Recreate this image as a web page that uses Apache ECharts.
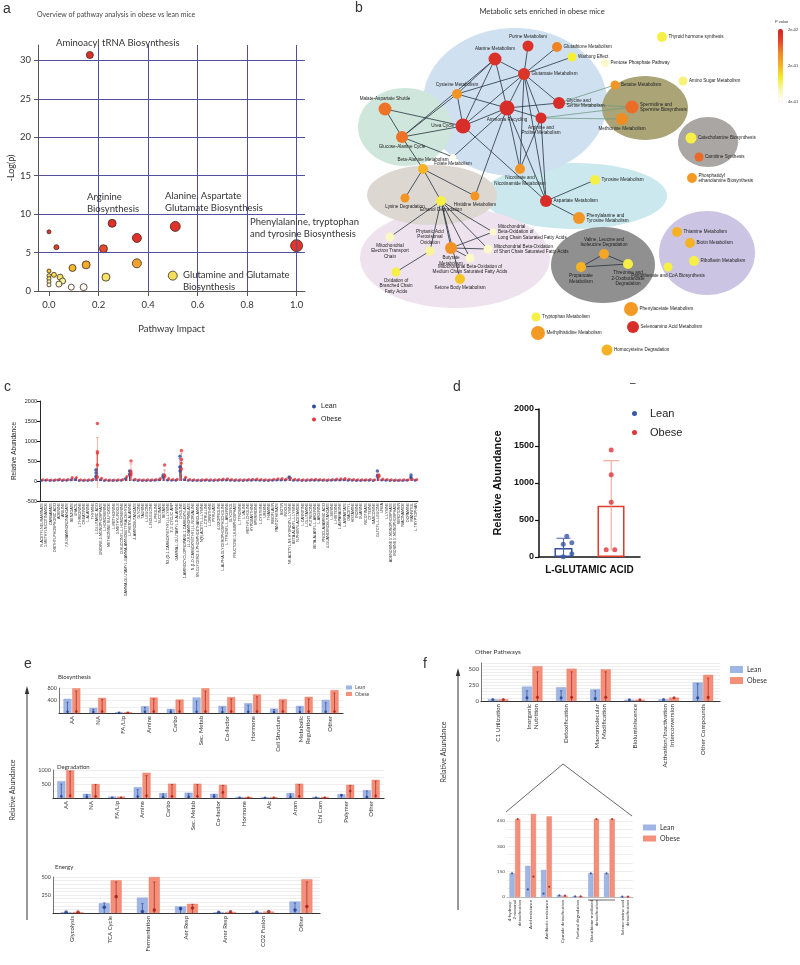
<!DOCTYPE html>
<html><head><meta charset="utf-8">
<script src="https://cdn.jsdelivr.net/npm/echarts@6/dist/echarts.min.js"></script>
<style>html,body{margin:0;padding:0;background:#fff}#c{width:800px;height:965px}</style>
</head><body><div id="c"></div><script>
const F1 = 'Lato, "Open Sans", sans-serif';
const F2 = '"Liberation Sans", Arial, sans-serif';

// ---------------- Panel a data ----------------
const impactA = [0.165,0.255,0.355,0.51,1.0,0.22,0.355,0.15,0.095,0.03,0.0,0.5,0.23,0.045,0.055,0.04,0.02,0.0,0.0,0.0,0.0,0.0,0.09,0.14];
const logpA   = [30.7,8.8,6.9,8.4,5.9,5.5,3.6,3.4,3.0,5.7,7.7,2.0,1.8,1.8,1.3,0.9,2.1,2.6,2.0,1.6,1.2,0.8,0.5,0.5];
const hitsA   = [7,8,9,10,12,8,9,8,7,5,4,9,8,6,6,6,5,4,4,4,4,4,6,7];
const xTicksA = [0,0.2,0.4,0.6,0.8,1.0];
const yTicksA = [0,5,10,15,20,25,30];

// ---------------- Panel b data ----------------
const nodeNames = ['Purine Metabolism','Alanine Metabolism','Glutamate Metabolism','Glutathione Metabolism','Warburg Effect','Pentose Phosphate Pathway','Thyroid hormone synthesis','Amino Sugar Metabolism','Cysteine Metabolism','Malate-Aspartate Shuttle',
'Ammonia Recycling','Urea Cycle','Arginine and\nProline Metabolism','Glycine and\nSerine Metabolism','Glucose-Alanine Cycle','Folate Metabolism','Beta-Alanine Metabolism','Nicotinate and\nNicotinamide Metabolism','Betaine Metabolism','Spermidine and\nSpermine Biosynthesis',
'Methionine Metabolism','Catecholamine Biosynthesis','Carnitine Synthesis','Phosphatidyl\nethanolamine Biosynthesis','Tyrosine Metabolism','Aspartate Metabolism','Phenylalanine and\nTyrosine Metabolism','Lysine Degradation','Ethanol Degradation','Histidine Metabolism',
'Mitochondrial\nElectron Transport\nChain','Phytanic Acid\nPeroxisomal\nOxidation','Butyrate\nMetabolism','Mitochondrial\nBeta-Oxidation of\nLong Chain Saturated Fatty Acids','Mitochondrial Beta-Oxidation\nof Short Chain Saturated Fatty Acids','Mitochondrial Beta-Oxidation of\nMedium Chain Saturated Fatty Acids','Oxidation of\nBranched Chain\nFatty Acids','Ketone Body Metabolism','Valine, Leucine and\nIsoleucine Degradation','Propanoate\nMetabolism',
'Threonine and\n2-Oxobutanoate\nDegradation','Thiamine Metabolism','Biotin Metabolism','Riboflavin Metabolism','Pantothenate and CoA Biosynthesis','Phenylacetate Metabolism','Selenoamino Acid Metabolism','Homocysteine Degradation','Tryptophan Metabolism','Methylhistidine Metabolism'];
const nodeX = [528,495,524,557,572,605,662,683,457,385, 507,463,541,559,402,453,423,520,615,632, 622,691,699,692,595,546,579,405,441,475, 390,430,451,493,488,470,396,460,604,581, 628,677,690,694,668,631,633,607,536,538];
const nodeY = [46,59,74,47,57,63,37,81,94,109, 108,126,118,103,137,157,169,169,85,107, 119,138,157,178,180,201,218,198,201,196, 237,251,248,232,249,258,272,279,254,267, 264,232,243,261,267,309,327,350,317,333];
const nodeHits = [11,13,12,10,9,8,10,9,10,13, 15,15,11,12,12,6,10,10,9,13, 12,11,9,10,10,12,12,9,10,9, 9,9,12,7,9,9,9,10,10,10, 10,10,10,10,9,14,12,11,9,14];
const nodeLevel = [0.93,0.93,0.92,0.68,0.32,0.12,0.3,0.24,0.62,0.72, 0.95,0.95,0.95,0.95,0.72,0.04,0.5,0.62,0.62,0.74, 0.66,0.3,0.75,0.6,0.3,0.95,0.62,0.62,0.3,0.62, 0.14,0.2,0.63,0.12,0.12,0.12,0.3,0.45,0.55,0.5, 0.3,0.5,0.5,0.3,0.3,0.6,0.95,0.5,0.3,0.6];
const edgesDark = [[1,2],[1,8],[1,11],[1,10],[1,14],[0,2],[2,3],[2,4],[2,8],[2,11],[2,10],[2,12],[2,13],[2,17],[2,25],
 [10,13],[10,12],[10,11],[10,8],[10,15],[10,29],[10,17],[10,25],[11,8],[11,9],[11,14],[11,25],[9,14],[14,8],[14,15],[14,16],
 [12,17],[12,25],[25,24],[25,26],[16,27],[16,28],[16,29],[28,30],[28,31],[28,32],[28,37],[28,33],[28,34],[28,35],
 [32,33],[32,34],[32,35],[31,36],[38,39],[38,40],[39,40]];
const edgesGreen = [[13,18],[13,19],[12,19],[12,20]];
const blobs = [[575,196,92,33],[515,102,92,74],[405,127,47,39],[455,258,95,50],[432,195,65,30],[645,108,43,32],[708,142,30,25],[603,265,52,38],[707,253,48,42]];
const pTicks = ['2e-02','2e-01','4e-01'];

// ---------------- Panel c data ----------------
const catC = ['N-ACETYLNEURAMINATE','1-METHYLNICOTINAMIDE','CARBAMATE','DIETHYLPHOSPHORIC ACID','ADENINE','ANILINE','7,8-DIAMINONONANOATE','BENZOATE','URACIL','L-THREONINE',
'CREATININE','L-ALANINE','THYMINE','L-GLUTAMIC ACID','URIDINE-5-MONOPHOSPHATE','L-HOMOSERINE','METHIONINE SULFOXIDE','L-METHIONINE','3-METHYLINDOLE','O-SUCCINYL-L-HOMOSERINE',
'GAMMA-GLUTAMYL-GAMMA-AMINOBUTYRALDEHYDE','L-PHENYLALANINE','4-AMINOBUTANOATE','GLYCINE','TAURINE','L-LEUCINE','L-ISOLEUCINE','L-PROLINE','SUCCINATE','BETAINE',
'N2-(D-1-CARBOXYETHYL)-L-LYSINE',"3',5'-CYCLIC AMP",'GAMMA-L-GLUTAMYL-D-ALANINE','CHOLINE','1-AMINOCYCLOPROPANE-1-CARBOXYLATE','LL-2,6-DIAMINOPIMELATE','N-(1-D-CARBOXYETHYL)-L-NORVALINE','SN-GLYCERO-3-PHOSPHOETHANOLAMINE','N(6)-ACETYL-L-LYSINE','L-CITRULLINE',
'L-ORNITHINE','PYRUVATE','4-OXOPROLINE','L-ALPHA-GLYCEROPHOSPHOCHOLINE','L-TYROSYL-L-ARGININE','GLYCEROL','FRUCTOSE-1,6-BISPHOSPHATE','L-TYROSINE','L-VALINE','METHYLCHOLINE',
'HYPOXANTHINE','SPERMIDINE','L-CYSTEINE','URIDINE','THIAMINE','RIBOFLAVIN','PANTOTHENATE','BIOTIN','INDOLE','N6-ACETYL-N6-HYDROXY-L-LYSINE',
'BETA-ALANYL-L-LYSINE','N-PHENYLACETAMIDE','L-CARNITINE','L-GLUTAMINE','PUTRESCINE','BETA-ALANYL-L-ARGININE','L-ARGININE','PROCLAVAMINIC ACID','4-GUANIDINOBUTANOATE','L-SERINE',
'L-HISTIDINE','L-ASPARAGINE','L-ASPARTATE','DIACETYL','HISTAMINE','INOSINE','GUANINE','NICOTINATE','CYTIDINE','SARCOSINE',
'GLYCYL-L-LEUCINE','UREA','L-LYSINE',"ADENOSINE 5'-MONOPHOSPHATE","INOSINE 5'-MONOPHOSPHATE",'SEROTONIN','NIACINAMIDE','DOPAMINE','MANNITOL','L-TRYPTOPHAN'];
const obeseC = [30,32,28,30,45,30,35,85,88,30, 28,30,45,695,70,30,28,26,30,35, 110,250,45,30,28,30,32,40,65,150, 60,38,42,450,95,35,30,28,32,35, 32,30,40,48,55,40,32,30,32,35, 45,50,38,32,30,42,55,60,48,75, 45,38,32,30,36,42,40,34,30,36, 48,58,62,45,36,32,30,34,38,32, 130,48,36,30,28,26,30,34,45,38];
const leanC  = [15,18,12,14,25,15,18,30,35,14, 12,14,20,125,30,14,12,12,15,18, 60,180,22,15,12,14,15,18,30,120, 25,18,20,350,40,16,14,12,15,16, 15,14,18,22,25,18,15,14,15,16, 20,22,18,15,14,20,25,28,22,90, 20,18,15,14,16,20,18,16,14,16, 22,28,30,20,16,15,14,16,18,15, 150,22,16,14,12,12,14,16,100,18];
const leanDotsC  = [[13,280],[13,200],[13,100],[21,250],[21,150],[29,150],[29,100],[33,620],[33,350],[33,250],[59,100],[80,250],[80,120],[88,150],[88,80]];
const obeseDotsC = [[13,1440],[13,730],[13,400],[13,99],[21,500],[21,200],[21,150],[29,400],[29,120],[33,760],[33,540],[33,300],[80,150],[80,120]];
const leanErrC  = [[13,0,260],[21,100,250],[33,120,560]];
const obeseErrC = [[13,-180,1090],[21,50,430],[29,0,280],[33,150,700]];

// ---------------- Panel d data ----------------
const catD = ['L-GLUTAMIC ACID'];
const leanMeanD = [122];
const obeseMeanD = [693];
const leanPtsD  = [[-0.45,280],[-0.52,172],[-0.35,193],[-0.35,45],[-0.52,3]];
const obesePtsD = [[0.43,1446],[0.43,1112],[0.43,739],[0.33,99],[0.5,99]];
const leanErrD  = [[-0.515,0,253]];
const obeseErrD = [[0.43,88,1301]];

// ---------------- Panel e data ----------------
const catBio = ['AA','NA','FA/Lip','Amine','Carbo','Sec. Metab','Co-factor','Hormone','Cell Structure','Metabolic\nRegulation','Other'];
const leanBio  = [454,162,30,216,130,497,227,313,140,227,421];
const obeseBio = [790,486,30,497,432,790,508,594,443,518,734];
const leanDotBio  = [40,30,5,40,30,40,30,40,30,30,40];
const obeseDotBio = [50,50,5,50,50,50,50,50,50,50,50];
const leanHiBio  = [350,120,0,180,100,380,170,250,110,180,330];
const obeseHiBio = [700,430,0,450,380,700,450,520,380,450,640];

const catDeg = ['AA','NA','FA/Lip','Amine','Carbo','Sec. Metab','Co-factor','Hormone','Alc','Arom','Chl Com','Polymer','Other'];
const leanDeg  = [600,150,50,390,175,190,150,40,30,175,40,135,280];
const obeseDeg = [990,500,50,900,510,510,470,40,30,510,40,470,650];
const leanDotDeg  = [60,40,10,50,40,40,50,10,5,40,10,100,30];
const obeseDotDeg = [80,60,10,80,60,60,200,10,5,60,10,250,80];
const leanHiDeg  = [500,120,0,300,150,150,130,0,0,150,0,130,250];
const obeseHiDeg = [950,480,0,800,480,480,450,0,0,480,0,450,600];

const catEn = ['Glycolysis','TCA Cycle','Fermentation','Aer Resp','Aner Resp','CO2 Fusion','Other'];
const leanEn  = [12,136,214,91,10,10,160];
const obeseEn = [12,455,500,127,15,20,468];
const leanDotEn  = [12,80,20,60,10,10,40];
const obeseDotEn = [12,227,40,70,15,20,90];
const leanHiEn  = [0,140,130,80,0,0,140];
const obeseHiEn = [0,430,430,120,0,0,430];

// ---------------- Panel f data ----------------
const catOth = ['C1 Utilization','Inorganic\nNutrition','Detoxification','Macromolecular\nModification','Bioluminiscence','Activation/Inactivation\nInterconversion','Other Compounds'];
const leanOth  = [27,228,217,185,20,27,293];
const obeseOth = [27,549,510,500,20,54,413];
const leanDotOth  = [25,50,50,40,20,25,50];
const obeseDotOth = [25,60,60,60,20,50,60];
const leanHiOth  = [0,160,160,160,0,0,270];
const obeseHiOth = [0,460,460,460,0,0,360];

const catDet = ['4-hydroxy-\n2-nonenal\ndetoxification','Acid resistance','Antibiotic resistance','Cyanide detoxification','Furfural degradation','Glutathione-mediated\ndetoxification',' ','Seleno-amino acid\ndetoxification'];
const leanDet  = [140,184,160,10,4,140,140,2];
const obeseDet = [460,490,476,8,4,460,460,2];
const leanDotDet  = [140,45,20,10,4,140,140,2];
const obeseDotDet = [460,120,60,8,4,460,460,2];
const leanHiDet  = [0,0,0,0,0,0,0,0];
const obeseHiDet = [0,0,0,0,0,0,0,0];

// ---------------- styles ----------------
const labelPos = ['top','top','right','right','right','right','right','right','top','top', 'bottom','left','bottom','right','bottom','bottom','top','bottom','right','right', 'bottom','right','right','right','right','right','right','bottom','bottom','bottom', 'bottom','top','bottom','right','right','bottom','bottom','bottom','top','bottom', 'bottom','right','right','right','bottom','right','right','right','right','right'];
const blobColors = ['#cae8ee','#cfe1f1','#cfe6dc','#efe2ef','#ddd7d2','#aaa477','#aaa6a3','#919090','#cbc4e2'];
const LEAN_BAR = '#9fb5e4', OBESE_BAR = '#f39079', LEAN_DOT = '#1f3a8a', OBESE_DOT = '#a81818';
const plain = v => String(v);

const option = {animation:false, backgroundColor:'#fff', grid:[], xAxis:[], yAxis:[], series:[], legend:[], visualMap:[], graphic:{elements:[]}};
const S = option.series, G = option.graphic.elements;

function txt(x, y, text, size, opt) {
  opt = opt || {};
  G.push({type:'text', x:x, y:y, rotation: opt.rot || 0, z:50,
    style:{text:text, fontSize:size, fontFamily: opt.font || F1, fontWeight: opt.bold ? 'bold':'normal', fill: opt.color || '#333',
      align: opt.align || 'left', verticalAlign: opt.va || 'middle', lineHeight: opt.lh || size*1.2}});
}
function line(x1,y1,x2,y2,color,w){ G.push({type:'line', z:50, shape:{x1,y1,x2,y2}, style:{stroke:color||'#333', lineWidth:w||1}}); }

function errRender(offset, color, cap, lw) {
  return function(params, api) {
    const lo = api.coord([api.value(0), api.value(1)]);
    const hi = api.coord([api.value(0), api.value(2)]);
    const x = lo[0] + offset;
    return {type:'group', children:[
      {type:'line', shape:{x1:x, y1:lo[1], x2:x, y2:hi[1]}, style:{stroke:color, lineWidth:lw||0.8}},
      {type:'line', shape:{x1:x-cap, y1:hi[1], x2:x+cap, y2:hi[1]}, style:{stroke:color, lineWidth:lw||0.8}}
    ]};
  };
}

// ================= Panel a =================
option.grid.push({left:38, top:45, width:267, height:246});
option.xAxis.push({type:'value', gridIndex:0, min:-0.0444, max:1.034,
  axisLine:{onZero:false, lineStyle:{color:'#555', width:1}},
  axisTick:{show:true, length:5, customValues:xTicksA, lineStyle:{color:'#555'}},
  axisLabel:{customValues:xTicksA, formatter:v=>v.toFixed(1), fontSize:9.5, fontFamily:F1, color:'#333', margin:9},
  splitLine:{show:false},
  name:'Pathway Impact', nameLocation:'middle', nameGap:33, nameTextStyle:{fontSize:9.5, fontFamily:F1, color:'#333'}});
option.yAxis.push({type:'value', gridIndex:0, min:0, max:32,
  axisLine:{show:true, onZero:false, lineStyle:{color:'#555', width:1}},
  axisTick:{show:true, length:4, customValues:yTicksA, lineStyle:{color:'#555'}},
  axisLabel:{customValues:yTicksA, fontSize:9.5, fontFamily:F1, color:'#333', margin:7},
  splitLine:{show:false},
  name:'-Log(p)', nameLocation:'middle', nameGap:21, nameTextStyle:{fontSize:9, fontFamily:F1, color:'#333'}});
S.push({type:'scatter', xAxisIndex:0, yAxisIndex:0, data:[[0,0]], symbolSize:0, silent:true, z:1,
  markLine:{silent:true, symbol:'none', label:{show:false}, lineStyle:{color:'#50509c', width:1, type:'solid'},
    data:[...xTicksA.slice(1).map(v=>({xAxis:v})), ...yTicksA.slice(1).map(v=>({yAxis:v}))]}});
const aIdx = S.length;
S.push({type:'scatter', xAxisIndex:0, yAxisIndex:0, z:3,
  data: impactA.map((x,i)=>[x, logpA[i], hitsA[i]]), symbolSize: v=>v[2],
  itemStyle:{borderColor:'#3a2a20', borderWidth:0.8, opacity:1}});
option.visualMap.push({type:'continuous', show:false, seriesIndex:aIdx, dimension:1, min:0.4, max:6,
  inRange:{color:['#ffffff','#f3ec80','#f5c828','#f09a30','#e86a34','#e0302a']}});
txt(3, 9, 'a', 14, {font:F2});
txt(37, 15, 'Overview of pathway analysis in obese vs lean mice', 7, {color:'#444'});
txt(56, 43, 'Aminoacyl tRNA Biosynthesis', 9.5);
txt(87, 203, 'Arginine\nBiosynthesis', 9.5, {lh:11.5});
txt(165, 202, 'Alanine, Aspartate\nGlutamate Biosynthesis', 9.5, {lh:11.5});
txt(250, 228, 'Phenylalanine, tryptophan\nand tyrosine Biosynthesis', 9.5, {lh:11.5});
txt(183, 281, 'Glutamine and Glutamate\nBiosynthesis', 9.5, {lh:11.5});

// ================= Panel b =================
option.grid.push({left:290, top:20, width:510, height:350});
option.xAxis.push({type:'value', gridIndex:1, min:290, max:800, show:false});
option.yAxis.push({type:'value', gridIndex:1, min:20, max:370, inverse:true, show:false});
S.push({type:'custom', xAxisIndex:1, yAxisIndex:1, z:1, silent:true, data:blobs,
  renderItem:function(params, api){
    const c = api.coord([api.value(0), api.value(1)]);
    const s = api.size([api.value(2), api.value(3)]);
    return {type:'ellipse', shape:{cx:c[0], cy:c[1], rx:Math.abs(s[0]), ry:Math.abs(s[1])}, style:{fill:blobColors[params.dataIndex]}};
  }});
S.push({type:'lines', coordinateSystem:'cartesian2d', xAxisIndex:1, yAxisIndex:1, z:2, silent:true,
  data: edgesDark.map(([a,b])=>({coords:[[nodeX[a],nodeY[a]],[nodeX[b],nodeY[b]]]})),
  lineStyle:{color:'#27323f', width:0.8, opacity:1}});
S.push({type:'lines', coordinateSystem:'cartesian2d', xAxisIndex:1, yAxisIndex:1, z:2, silent:true,
  data: edgesGreen.map(([a,b])=>({coords:[[nodeX[a],nodeY[a]],[nodeX[b],nodeY[b]]]})),
  lineStyle:{color:'#6f9c80', width:0.8, opacity:1}});
const bIdx = S.length;
S.push({type:'scatter', xAxisIndex:1, yAxisIndex:1, z:3,
  data: nodeNames.map((n,i)=>({name:n, value:[nodeX[i], nodeY[i], nodeHits[i], nodeLevel[i]], label:{position:labelPos[i]}})),
  symbolSize: v=>v[2], itemStyle:{opacity:1},
  label:{show:true, formatter:'{b}', fontSize:4.6, fontFamily:F2, color:'#222', distance:1.5, lineHeight:5.3}});
option.visualMap.push({type:'continuous', show:true, seriesIndex:bIdx, dimension:3, min:0, max:1, calculable:false,
  left:778, top:29, itemWidth:5, itemHeight:73, padding:0, text:null, showLabel:false,
  inRange:{color:['#ffffff','#fbf5b5','#f3ee2a','#f6b225','#f08a24','#e8452a','#cf2428']}});
txt(355, 8, 'b', 14, {font:F2});
txt(542, 12, 'Metabolic sets enriched in obese mice', 7.5, {align:'center', color:'#333'});
txt(775, 22, 'P value', 4, {font:F2});
txt(788, 30, pTicks[0], 4, {font:F2});
txt(788, 66, pTicks[1], 4, {font:F2});
txt(788, 102, pTicks[2], 4, {font:F2});

// ================= Panel c =================
option.grid.push({left:40, top:401, width:378, height:100});
option.xAxis.push({type:'category', gridIndex:2, data:catC,
  axisLine:{onZero:false, lineStyle:{color:'#111', width:0.9}},
  axisTick:{interval:0, length:2, lineStyle:{color:'#111', width:0.5}},
  axisLabel:{rotate:90, interval:0, fontSize:3.6, fontFamily:F2, color:'#222', margin:2}});
option.yAxis.push({type:'value', gridIndex:2, min:-500, max:2000, interval:500,
  axisLine:{show:true, onZero:false, lineStyle:{color:'#111', width:0.9}},
  axisTick:{show:true, length:3, lineStyle:{color:'#111'}},
  axisLabel:{fontSize:5.5, fontFamily:F2, color:'#222', margin:3, formatter:plain},
  splitLine:{show:false},
  name:'Relative Abundance', nameLocation:'middle', nameGap:22, nameTextStyle:{fontSize:6.5, fontFamily:F2, color:'#222'}});
S.push({name:'Lean', type:'bar', xAxisIndex:2, yAxisIndex:2, data:leanC, barWidth:1.3, barGap:'0%', itemStyle:{color:'#3050a0'}, z:2});
S.push({name:'Obese', type:'bar', xAxisIndex:2, yAxisIndex:2, data:obeseC, barWidth:1.3, itemStyle:{color:'#e03a30'}, z:2});
S.push({type:'custom', xAxisIndex:2, yAxisIndex:2, data:leanErrC, renderItem:errRender(-0.7,'#3050a0',1.5,0.6), z:3, silent:true});
S.push({type:'custom', xAxisIndex:2, yAxisIndex:2, data:obeseErrC, renderItem:errRender(0.7,'#f08070',1.5,0.6), z:3, silent:true});
S.push({name:'Lean', type:'scatter', xAxisIndex:2, yAxisIndex:2, data:leanC.map((v,i)=>[i,v]), symbolSize:3, symbolOffset:[-0.7,0], itemStyle:{color:'#2e4da0'}, z:4});
S.push({name:'Obese', type:'scatter', xAxisIndex:2, yAxisIndex:2, data:obeseC.map((v,i)=>[i,v]), symbolSize:3, symbolOffset:[0.7,0], itemStyle:{color:'#e8343a'}, z:5});
S.push({name:'Lean', type:'scatter', xAxisIndex:2, yAxisIndex:2, data:leanDotsC, symbolSize:3.5, symbolOffset:[-0.7,0], itemStyle:{color:'#2e4da0'}, z:4});
S.push({name:'Obese', type:'scatter', xAxisIndex:2, yAxisIndex:2, data:obeseDotsC, symbolSize:3.5, symbolOffset:[0.7,0], itemStyle:{color:'#e8343a'}, z:5});
option.legend.push({left:312, top:403, orient:'vertical', padding:0, itemGap:6, itemWidth:4, itemHeight:4, icon:'circle',
  textStyle:{fontSize:7, fontFamily:F2, color:'#222'},
  data:[{name:'Lean', itemStyle:{color:'#2e4da0'}},{name:'Obese', itemStyle:{color:'#e8343a'}}]});
txt(4, 387, 'c', 14, {font:F2});

// ================= Panel d =================
option.grid.push({left:539, top:409, width:101, height:148});
option.xAxis.push({type:'category', gridIndex:3, data:catD,
  axisLine:{onZero:false, lineStyle:{color:'#111', width:1.5}},
  axisTick:{alignWithLabel:true, length:5, lineStyle:{color:'#111', width:1.2}},
  axisLabel:{fontSize:10, fontWeight:'bold', fontFamily:F2, color:'#111', margin:8}});
option.xAxis.push({type:'value', gridIndex:3, min:-1, max:1, show:false});
option.yAxis.push({type:'value', gridIndex:3, min:0, max:2000, interval:500,
  axisLine:{show:true, onZero:false, lineStyle:{color:'#111', width:1.5}},
  axisTick:{show:true, length:4, lineStyle:{color:'#111', width:1.2}},
  axisLabel:{fontSize:9, fontWeight:'bold', fontFamily:F2, color:'#111', margin:5, formatter:plain},
  splitLine:{show:false},
  name:'Relative Abundance', nameLocation:'middle', nameGap:36, nameTextStyle:{fontSize:11, fontWeight:'bold', fontFamily:F2, color:'#111'}});
S.push({name:'Lean', type:'bar', xAxisIndex:3, yAxisIndex:3, data:leanMeanD, barWidth:18, barGap:'139%', z:2,
  itemStyle:{color:'rgba(255,255,255,0)', borderColor:'#34509c', borderWidth:1.5}});
S.push({name:'Obese', type:'bar', xAxisIndex:3, yAxisIndex:3, data:obeseMeanD, barWidth:27, z:2,
  itemStyle:{color:'rgba(255,255,255,0)', borderColor:'#e03a2a', borderWidth:1.5}});
S.push({type:'custom', xAxisIndex:4, yAxisIndex:3, data:leanErrD, renderItem:errRender(0,'#4a64aa',7,1), z:3, silent:true});
S.push({type:'custom', xAxisIndex:4, yAxisIndex:3, data:obeseErrD, renderItem:errRender(0,'#f0a088',8,1), z:3, silent:true});
S.push({name:'Lean', type:'scatter', xAxisIndex:4, yAxisIndex:3, data:leanPtsD, symbolSize:5, itemStyle:{color:'#3a58a8'}, z:4});
S.push({name:'Obese', type:'scatter', xAxisIndex:4, yAxisIndex:3, data:obesePtsD, symbolSize:5, itemStyle:{color:'#e0343a'}, z:4});
option.legend.push({left:632, top:408, orient:'vertical', padding:0, itemGap:8, itemWidth:5, itemHeight:5, icon:'circle',
  textStyle:{fontSize:11, fontFamily:F2, color:'#222', padding:[0,0,0,8]},
  data:[{name:'Lean', itemStyle:{color:'#3a58a8'}},{name:'Obese', itemStyle:{color:'#e0343a'}}]});
txt(453, 387, 'd', 14, {font:F2});
txt(630, 383, '\u2013', 10, {font:F2, color:'#222'});

// ================= Bar panels e/f =================
function barPanel(p) {
  const gi = option.grid.length; option.grid.push(p.grid);
  const xi = option.xAxis.length;
  option.xAxis.push({type:'category', gridIndex:gi, data:p.cats,
    axisLine:{onZero:false, lineStyle:{color:p.axisColor||'#333', width:p.axisW||1.2}},
    axisTick:{show:false},
    axisLabel:{rotate:90, interval:0, fontSize:p.labelFont, fontFamily:F1, color:'#333', margin:3, lineHeight:p.labelFont*1.15}});
  const yi = option.yAxis.length;
  option.yAxis.push({type:'value', gridIndex:gi, min:0, max:p.max, interval:p.interval,
    axisLine:{show:p.yLine!==false, onZero:false, lineStyle:{color:'#555', width:0.8}},
    axisTick:{show:false},
    axisLabel:{fontSize:p.yFont, fontFamily:F1, color:'#444', margin:2,
      formatter: v => (v % p.labelEvery === 0 && (v > 0 || p.showZero)) ? String(v) : ''},
    splitLine:{lineStyle:{color:'#e3e3e3', width:0.6}}});
  const off = p.barW*(1+p.gap)/2;
  S.push({name:'Lean', type:'bar', xAxisIndex:xi, yAxisIndex:yi, data:p.lean, barWidth:p.barW, barGap:(p.gap*100)+'%', z:2,
    itemStyle:{color:LEAN_BAR, borderColor:'#87a0d6', borderWidth:0.4}});
  S.push({name:'Obese', type:'bar', xAxisIndex:xi, yAxisIndex:yi, data:p.obese, barWidth:p.barW, z:2,
    itemStyle:{color:OBESE_BAR, borderColor:'#e27a62', borderWidth:0.4}});
  S.push({type:'custom', xAxisIndex:xi, yAxisIndex:yi, z:3, silent:true,
    data:p.leanHi.map((h,i)=>[i,0,h]).filter(d=>d[2]>0), renderItem:errRender(-off,'#2a4a9a',p.cap,0.7)});
  S.push({type:'custom', xAxisIndex:xi, yAxisIndex:yi, z:3, silent:true,
    data:p.obeseHi.map((h,i)=>[i,0,h]).filter(d=>d[2]>0), renderItem:errRender(off,'#b02020',p.cap,0.7)});
  S.push({type:'scatter', xAxisIndex:xi, yAxisIndex:yi, z:4, silent:true, data:p.leanDot.map((v,i)=>[i,v]),
    symbolSize:p.dot, symbolOffset:[-off,0], itemStyle:{color:LEAN_DOT}});
  S.push({type:'scatter', xAxisIndex:xi, yAxisIndex:yi, z:4, silent:true, data:p.obeseDot.map((v,i)=>[i,v]),
    symbolSize:p.dot, symbolOffset:[off,0], itemStyle:{color:OBESE_DOT}});
}
barPanel({grid:{left:59, top:688, width:284, height:25}, cats:catBio, lean:leanBio, obese:obeseBio, leanDot:leanDotBio, obeseDot:obeseDotBio,
  leanHi:leanHiBio, obeseHi:obeseHiBio, max:800, interval:200, labelEvery:400, barW:8, gap:0.1, labelFont:6, yFont:5.5, cap:1, dot:2.6});
barPanel({grid:{left:53, top:770, width:331, height:28}, cats:catDeg, lean:leanDeg, obese:obeseDeg, leanDot:leanDotDeg, obeseDot:obeseDotDeg,
  leanHi:leanHiDeg, obeseHi:obeseHiDeg, max:1000, interval:250, labelEvery:500, barW:8, gap:0.1, labelFont:6, yFont:5.5, cap:1, dot:2.6});
barPanel({grid:{left:53, top:877, width:267, height:36}, cats:catEn, lean:leanEn, obese:obeseEn, leanDot:leanDotEn, obeseDot:obeseDotEn,
  leanHi:leanHiEn, obeseHi:obeseHiEn, max:500, interval:50, labelEvery:250, barW:11, gap:0.08, labelFont:6, yFont:5.5, cap:1.2, dot:3.6});
barPanel({grid:{left:481, top:663, width:239, height:38}, cats:catOth, lean:leanOth, obese:obeseOth, leanDot:leanDotOth, obeseDot:obeseDotOth,
  leanHi:leanHiOth, obeseHi:obeseHiOth, max:600, interval:50, labelEvery:250, showZero:true, barW:10, gap:0.05, labelFont:6.3, yFont:6, cap:1.2, dot:3});
barPanel({grid:{left:507, top:814, width:126, height:83}, cats:catDet, lean:leanDet, obese:obeseDet, leanDot:leanDotDet, obeseDot:obeseDotDet,
  leanHi:leanHiDet, obeseHi:obeseHiDet, max:490, interval:50, labelEvery:150, showZero:true, barW:5.2, gap:0.08, labelFont:4.4, yFont:4.6, cap:1, dot:2.2,
  yLine:false, axisColor:'#999', axisW:0.6});

option.legend.push({left:346, top:685, orient:'vertical', padding:0, itemGap:1.5, itemWidth:6, itemHeight:4, icon:'rect',
  textStyle:{fontSize:5, fontFamily:F1, color:'#555', padding:[0,0,0,-2]},
  data:[{name:'Lean', itemStyle:{color:LEAN_BAR}},{name:'Obese', itemStyle:{color:OBESE_BAR}}]});
option.legend.push({left:730, top:666, orient:'vertical', padding:0, itemGap:4, itemWidth:13, itemHeight:7, icon:'rect',
  textStyle:{fontSize:7, fontFamily:F1, color:'#333', padding:[0,0,0,-1]},
  data:[{name:'Lean', itemStyle:{color:LEAN_BAR}},{name:'Obese', itemStyle:{color:OBESE_BAR}}]});
option.legend.push({left:643, top:824, orient:'vertical', padding:0, itemGap:4, itemWidth:13, itemHeight:6, icon:'rect',
  textStyle:{fontSize:7, fontFamily:F1, color:'#333', padding:[0,0,0,-1]},
  data:[{name:'Lean', itemStyle:{color:LEAN_BAR}},{name:'Obese', itemStyle:{color:OBESE_BAR}}]});

txt(24, 664, 'e', 14, {font:F2});
txt(58, 677, 'Biosynthesis', 6);
txt(57, 767, 'Degradation', 6);
txt(55, 867, 'Energy', 6);
line(27, 692, 27, 920, '#333', 1);
G.push({type:'polygon', z:50, shape:{points:[[27,686],[24.8,694],[29.2,694]]}, style:{fill:'#333'}});
txt(13, 790, 'Relative Abundance', 7, {rot:Math.PI/2, align:'center'});

txt(423, 664, 'f', 14, {font:F2});
txt(475, 652, 'Other Pathways', 6.5);
line(458, 674, 458, 910, '#333', 1);
G.push({type:'polygon', z:50, shape:{points:[[458,668],[455.8,676],[460.2,676]]}, style:{fill:'#333'}});
txt(444, 752, 'Relative Abundance', 7, {rot:Math.PI/2, align:'center'});
line(563, 764, 506, 812, '#444', 0.8);
line(563, 764, 632, 816, '#444', 0.8);
line(588, 900, 615, 900, '#444', 0.8);

const chart = echarts.init(document.getElementById('c'), null, {renderer:'canvas'});
chart.setOption(option);
</script></body></html>
